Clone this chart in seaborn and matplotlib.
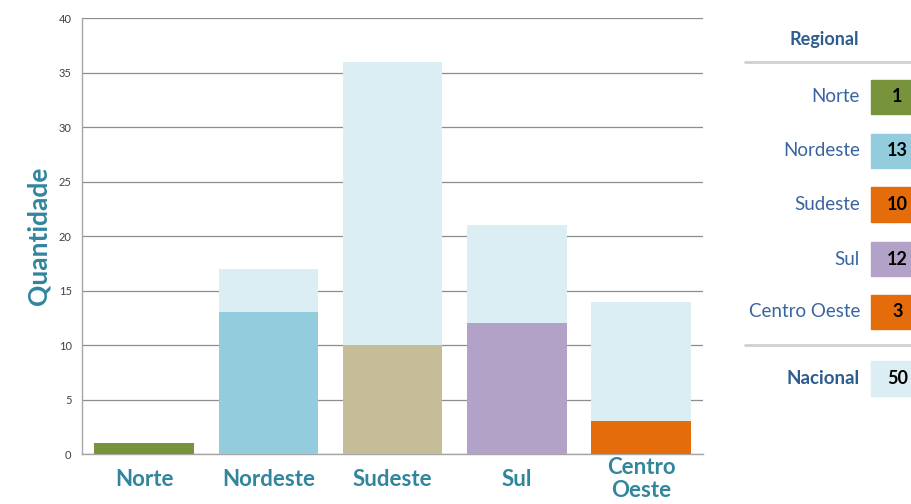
import numpy as np
import pandas as pd
import matplotlib
matplotlib.use('Agg')
import matplotlib.pyplot as plt
import seaborn as sns
from matplotlib.patches import Rectangle
from matplotlib.lines import Line2D

# Data
regions = ['Norte', 'Nordeste', 'Sudeste', 'Sul', 'Centro\nOeste']
totals = [1, 17, 36, 21, 14]          # light blue full height
selected = [1, 13, 10, 12, 3]         # coloured part
bar_colors = ['#77933C', '#93CDDD', '#C4BD97', '#B2A2C7', '#E46C0A']
light_color = '#DBEEF4'

table_labels = ['Norte', 'Nordeste', 'Sudeste', 'Sul', 'Centro Oeste']
table_values = [1, 13, 10, 12, 3]
table_colors = ['#77933C', '#93CDDD', '#E46C0A', '#B2A2C7', '#E46C0A']
nacional = 50

df = pd.DataFrame({'Regiao': regions, 'Total': totals, 'Selecionadas': selected})

sns.set_style('white')
plt.rcParams['font.family'] = ['Lato', 'DejaVu Sans']

fig = plt.figure(figsize=(9.11, 5.04), dpi=100)
ax = fig.add_axes([0.09, 0.099, 0.682, 0.865])

# light background bars (totals), then coloured bars on top
sns.barplot(data=df, x='Regiao', y='Total', color=light_color, width=0.8,
            ax=ax, zorder=2, saturation=1, linewidth=0)
sns.barplot(data=df, x='Regiao', y='Selecionadas', hue='Regiao',
            palette=bar_colors, width=0.8, ax=ax, zorder=3, saturation=1,
            legend=False, linewidth=0)

ax.set_ylim(0, 40)
ax.set_xlim(-0.5, 4.5)
ax.set_yticks(range(0, 41, 5))
ax.yaxis.grid(True, color='#8c8c8c', linewidth=0.9, zorder=0)
ax.set_axisbelow(True)
for s in ['top', 'right']:
    ax.spines[s].set_visible(False)
for s in ['left', 'bottom']:
    ax.spines[s].set_color('#a6a6a6')
    ax.spines[s].set_linewidth(1.0)
ax.tick_params(axis='y', labelsize=8, colors='#404040', length=4, color='#a6a6a6')
ax.tick_params(axis='x', length=0, pad=18)
for lbl in ax.get_xticklabels():
    lbl.set_color('#31859C')
    lbl.set_fontweight('bold')
    lbl.set_fontsize(16)
    lbl.set_linespacing(1.1)
    lbl.set_verticalalignment('center')
ax.set_xlabel('')
ax.set_ylabel('Quantidade', color='#31859C', fontsize=19, fontweight='bold',
              labelpad=6)
ax.patch.set_alpha(0)

# Regional table on the right
text_color = '#3A64A0'
fig.text(0.905, 0.921, 'Regional', ha='center', va='center', fontsize=13,
         fontweight='bold', color='#2F5C8F')
fig.add_artist(Line2D([0.818, 1.0], [0.877, 0.877], color='#d0d0d0', lw=2))
row_y = [0.808, 0.701, 0.594, 0.486, 0.381]
for lab, val, col, y in zip(table_labels, table_values, table_colors, row_y):
    fig.text(0.944, y, lab, ha='right', va='center', fontsize=13.5,
             color=text_color)
    fig.add_artist(Rectangle((0.956, y - 0.034), 0.05, 0.068, color=col,
                             transform=fig.transFigure))
    fig.text(0.985, y, str(val), ha='center', va='center', fontsize=13,
             fontweight='bold', color='black')
fig.add_artist(Line2D([0.818, 1.0], [0.316, 0.316], color='#d0d0d0', lw=2))
y = 0.249
fig.text(0.944, y, 'Nacional', ha='right', va='center', fontsize=13.5,
         fontweight='bold', color='#2F5C8F')
fig.add_artist(Rectangle((0.956, y - 0.034), 0.05, 0.068, color=light_color,
                         transform=fig.transFigure))
fig.text(0.985, y, str(nacional), ha='center', va='center', fontsize=13,
         fontweight='bold', color='black')

fig.savefig('out.png', dpi=100)
